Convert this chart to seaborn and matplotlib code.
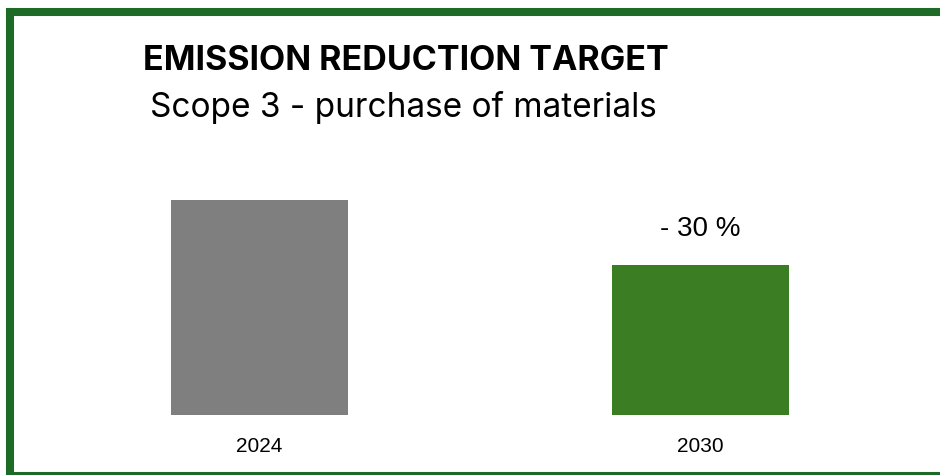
import matplotlib
matplotlib.use("Agg")
import matplotlib.pyplot as plt
import seaborn as sns
import pandas as pd
from matplotlib.patches import Rectangle

years = ["2024", "2030"]
emissions = [100, 70]
bar_colors = ["#7f7f7f", "#3b7d23"]
change_label = "- 30 %"
title = "EMISSION REDUCTION TARGET"
subtitle = "Scope 3 - purchase of materials"

df = pd.DataFrame({"year": years, "value": emissions})

sns.set_theme(style="white")
plt.rcParams["font.family"] = ["Liberation Sans", "DejaVu Sans"]

W, H = 940, 475
fig = plt.figure(figsize=(W / 100, H / 100), dpi=100)
fig.patch.set_facecolor("white")

ax = fig.add_axes([39 / W, (H - 415) / H, 882 / W, 215 / H])
sns.barplot(data=df, x="year", y="value", hue="year", palette=bar_colors,
            width=0.401, legend=False, ax=ax, saturation=1, linewidth=0)
ax.set_xlim(-0.5, 1.5)
ax.set_ylim(0, 100)
ax.set_xlabel("")
ax.set_ylabel("")
ax.set_yticks([])
for s in ax.spines.values():
    s.set_visible(False)
ax.tick_params(axis="x", length=0, pad=16, labelsize=15, labelcolor="black")
ax.patch.set_alpha(0)

ax.text(1, emissions[1] + 16.5, change_label, ha="center", va="center",
        fontsize=20, color="black")

fig.text(143 / W, (H - 61) / H, title, ha="left", va="center",
         fontsize=24.5, fontweight="bold", color="black",
         family=["Inter", "DejaVu Sans"])
fig.text(150 / W, (H - 108) / H, subtitle, ha="left", va="center",
         fontsize=24, color="black", family=["Inter", "DejaVu Sans"])

border = Rectangle((10 / W, -1 / H), 934 / W, (H - 12 + 1) / H,
                   transform=fig.transFigure, fill=False,
                   edgecolor="#1d6b27", linewidth=5.8, clip_on=False)
fig.patches.append(border)

fig.savefig("out.png", dpi=100, facecolor="white")
